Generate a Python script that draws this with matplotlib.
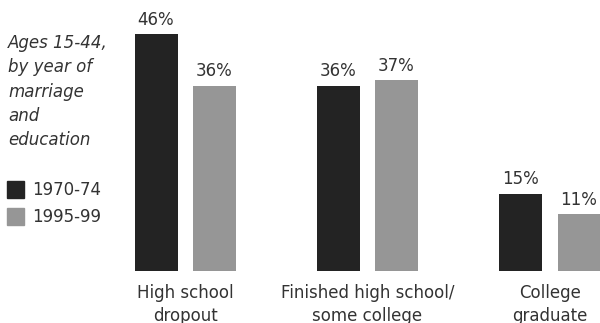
import matplotlib
matplotlib.use("Agg")
import matplotlib.pyplot as plt
import numpy as np

categories = ["High school\ndropout", "Finished high school/\nsome college", "College\ngraduate"]
series_names = ["1970-74", "1995-99"]
v1970 = [46, 36, 15]
v1995 = [36, 37, 11]
note_lines = ["Ages 15-44,", "by year of", "marriage", "and", "education"]

dark = "#232323"
gray = "#969696"
txt = "#333333"
fs = 12

W, H = 600, 323
fig = plt.figure(figsize=(6, 3.23), dpi=100)
plt.rcParams['font.family'] = ['DejaVu Sans']

# axes spans whole width, baseline at y=271 px from top
base = 271
ax = fig.add_axes([0, (H - base) / H, 1, base / H])
px_per_unit = 182.5
ax.set_xlim(-185 / px_per_unit, (600 - 185) / px_per_unit)
ax.set_ylim(0, base / 5.15)
ax.axis("off")

x = np.arange(len(categories))
off = 29 / px_per_unit
w = 43 / px_per_unit
b1 = ax.bar(x - off, v1970, w, color=dark)
b2 = ax.bar(x + off, v1995, w, color=gray)

for bars, vals in ((b1, v1970), (b2, v1995)):
    for r, v in zip(bars, vals):
        ax.annotate(f"{v}%", (r.get_x() + r.get_width() / 2, v),
                    xytext=(0, 4), textcoords="offset points",
                    ha="center", va="bottom", fontsize=fs, color=txt)

for xi, lab in zip(x, categories):
    ax.annotate(lab, (xi, 0), xytext=(0, -9), textcoords="offset points",
                ha="center", va="top", fontsize=fs, color=txt,
                linespacing=1.4, annotation_clip=False)

# italic note on the left
for i, line in enumerate(note_lines):
    fig.text(8 / W, 1 - (43 + 24.3 * i) / H, line, ha="left", va="center",
             fontsize=fs, style="italic", color=txt)

# legend squares
for i, (name, c) in enumerate(zip(series_names, [dark, gray])):
    yc = 190 + 27 * i
    fig.patches.append(plt.Rectangle((7 / W, 1 - (yc + 8) / H), 17 / W, 17 / H,
                                     transform=fig.transFigure, color=c))
    fig.text(32 / W, 1 - yc / H, name, ha="left", va="center",
             fontsize=fs, color=txt)

fig.savefig("out.png", dpi=100)
